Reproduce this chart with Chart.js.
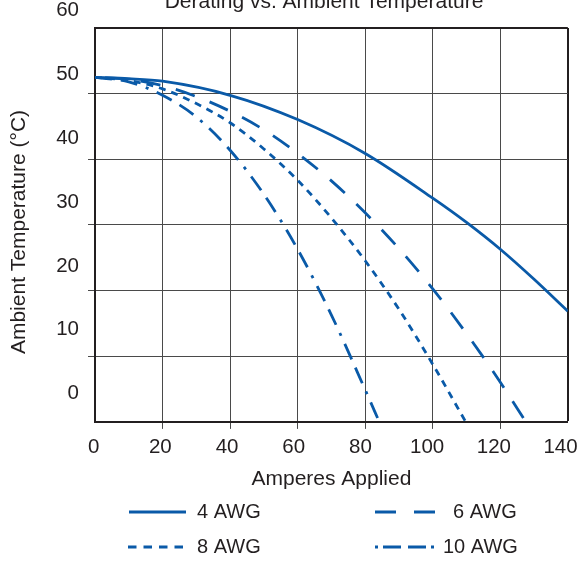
<!DOCTYPE html>
<html>
<head>
<meta charset="utf-8">
<title>Derating vs. Ambient Temperature</title>
<script src="https://cdn.jsdelivr.net/npm/chart.js@4.4.1/dist/chart.umd.min.js"></script>
<style>
  html, body { margin: 0; padding: 0; background: #fff; }
</style>
</head>
<body>
<canvas id="chart" width="584" height="563"></canvas>
<script>
// tick labels
const xTickValues = [0, 20, 40, 60, 80, 100, 120, 140];
const yTickValues = [0, 10, 20, 30, 40, 50, 60];

// series (amps -> ambient °C, read against the printed labels)
const amps4  = [0, 10, 20, 40, 60, 80, 100, 110, 120, 130, 140];
const temp4  = [49.5, 49.3, 48.9, 46.7, 42.9, 37.6, 30.6, 26.8, 22.6, 17.9, 12.9];

const amps6  = [0, 10, 20, 30, 40, 50, 60, 70, 80, 90, 100, 110, 120, 127.6];
const temp6  = [49.5, 49.2, 48.2, 46.5, 44.2, 41.3, 37.6, 33.3, 28.3, 22.7, 16.4, 9.4, 1.8, -4.45];

const amps8  = [0, 10, 20, 30, 40, 50, 60, 70, 80, 90, 100, 109.8];
const temp8  = [49.5, 49.0, 47.7, 45.4, 42.4, 38.3, 33.4, 27.5, 20.8, 13.2, 4.6, -4.45];

const amps10 = [0, 10, 20, 30, 40, 50, 60, 70, 80, 84.2];
const temp10 = [49.5, 48.8, 46.7, 43.3, 38.1, 31.2, 22.6, 12.3, 0.6, -4.45];

const seriesLabels = ['4 AWG', '6 AWG', '8 AWG', '10 AWG'];

const BLUE = '#0a5aa8';
const TEXT = '#231f20';
const GRID = '#4a4a4a';
const FRAME = '#231f20';
const FONT = '"Liberation Sans", Arial, sans-serif';

const pts = (xs, ys) => xs.map((x, i) => ({ x, y: ys[i] }));

// legend layout: line start/end, text x, row y, dash used in the key
const legendSlots = [
  { x0: 129, x1: 186, tx: 197, y: 512, dash: [] },
  { x0: 375, x1: 435, tx: 453, y: 512, dash: [21, 18] },
  { x0: 128, x1: 186, tx: 197, y: 547, dash: [8.5, 7] },
  { x0: 375, x1: 435, tx: 443, y: 547, dash: [3, 5, 18, 7, 18, 5] },
];

const overlayPlugin = {
  id: 'overlay',
  afterDraw(chart) {
    const { ctx } = chart;
    ctx.save();
    ctx.fillStyle = TEXT;
    ctx.font = '21px ' + FONT;
    ctx.textAlign = 'center';
    ctx.textBaseline = 'alphabetic';
    ctx.fillText('Derating vs. Ambient Temperature', 324, 7.5);

    // y axis title
    ctx.save();
    ctx.translate(19.7, 232);
    ctx.rotate(-Math.PI / 2);
    ctx.textBaseline = 'middle';
    ctx.fillText('Ambient Temperature (°C)', 0, 0);
    ctx.restore();

    chart.data.datasets.forEach((ds, i) => {
      const s = legendSlots[i];
      ctx.strokeStyle = ds.borderColor;
      ctx.lineWidth = ds.borderWidth;
      ctx.setLineDash(s.dash);
      ctx.beginPath();
      ctx.moveTo(s.x0, s.y);
      ctx.lineTo(s.x1, s.y);
      ctx.stroke();
      ctx.setLineDash([]);
      ctx.fillStyle = TEXT;
      ctx.font = '20px ' + FONT;
      ctx.textAlign = 'left';
      ctx.textBaseline = 'middle';
      ctx.fillText(ds.label, s.tx, s.y);
    });
    ctx.restore();
  }
};

const lineStyle = {
  xAxisID: 'x', yAxisID: 'yLabels',
  borderColor: BLUE, borderWidth: 2.8,
  pointRadius: 0, fill: false,
  cubicInterpolationMode: 'monotone', clip: 0,
};

const edgeWidth = (v, lo, hi) => v === lo ? 0 : (v === hi ? 2 : 1);
const edgeColor = (v, hi) => v === hi ? FRAME : GRID;
const innerTick = (v, lo, hi) => (v === lo || v === hi) ? 'rgba(0,0,0,0)' : GRID;

new Chart(document.getElementById('chart'), {
  type: 'line',
  data: {
    datasets: [
      { ...lineStyle, label: seriesLabels[0], data: pts(amps4, temp4) },
      { ...lineStyle, label: seriesLabels[1], data: pts(amps6, temp6), borderDash: [20, 16], borderDashOffset: 26 },
      { ...lineStyle, label: seriesLabels[2], data: pts(amps8, temp8), borderDash: [7, 6] },
      { ...lineStyle, label: seriesLabels[3], data: pts(amps10, temp10), borderDash: [17, 9, 17, 9, 3, 9] },
    ]
  },
  options: {
    responsive: false,
    animation: false,
    events: [],
    layout: { padding: { top: 28, right: 14, bottom: 71.4, left: 47.2 } },
    plugins: { legend: { display: false }, tooltip: { enabled: false }, title: { display: false } },
    scales: {
      x: {
        type: 'linear', position: 'bottom', weight: 0, min: 0, max: 140,
        ticks: { display: false, stepSize: 20 },
        grid: {
          tickLength: 7,
          lineWidth: c => edgeWidth(c.tick.value, 0, 140),
          color: c => edgeColor(c.tick.value, 140),
          tickColor: c => innerTick(c.tick.value, 0, 140),
          tickWidth: 1,
        },
        border: { color: FRAME, width: 2 },
      },
      xLabels: {
        type: 'linear', position: 'bottom', weight: 1, min: 0.4, max: 142.19,
        grid: { display: false, drawTicks: false },
        border: { display: false },
        afterBuildTicks: s => { s.ticks = xTickValues.map(v => ({ value: v })); },
        ticks: { color: TEXT, font: { family: FONT, size: 20.5 }, padding: 6.1, autoSkip: false, maxRotation: 0, callback: v => String(v) },
        title: { display: true, text: 'Amperes Applied', color: TEXT, font: { family: FONT, size: 21 }, padding: { top: 0.7, bottom: 0 } },
      },
      y: {
        type: 'linear', position: 'left', weight: 0, min: 0, max: 60,
        ticks: { display: false, stepSize: 10 },
        grid: {
          tickLength: 7,
          lineWidth: c => edgeWidth(c.tick.value, 0, 60),
          color: c => edgeColor(c.tick.value, 60),
          tickColor: c => innerTick(c.tick.value, 0, 60),
          tickWidth: 1,
        },
        border: { color: FRAME, width: 2 },
      },
      yLabels: {
        type: 'linear', position: 'left', weight: 1, min: -4.416, max: 57.23,
        grid: { display: false, drawTicks: false },
        border: { display: false },
        afterBuildTicks: s => { s.ticks = yTickValues.map(v => ({ value: v })); },
        ticks: { color: TEXT, font: { family: FONT, size: 20.5 }, padding: 9, autoSkip: false, callback: v => String(v) },
      },
    }
  },
  plugins: [overlayPlugin],
});
</script>
</body>
</html>
